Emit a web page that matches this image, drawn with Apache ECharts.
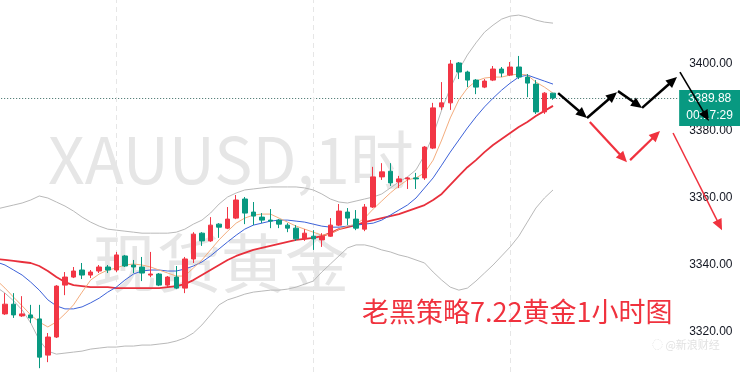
<!DOCTYPE html>
<html><head><meta charset="utf-8">
<script src="https://cdn.jsdelivr.net/npm/echarts@6/dist/echarts.min.js"></script>
<style>html,body{margin:0;padding:0;background:#fff;overflow:hidden}#c{width:740px;height:373px}</style>
</head><body><div id="c"></div>
<script>
// ---- data ----
// candles, bar 1..65 : [open, close, low, high]
const ohlc = [
 [3325.4,3328.3,3325.1,3331.6],[3328.3,3325.1,3324.2,3331.6],[3324.8,3325.4,3324.5,3330.7],[3325.1,3324.2,3322.7,3328.1],
 [3323.9,3312.5,3309.2,3328.1],[3313.1,3318.5,3311.0,3319.7],[3318.5,3333.7,3318.2,3334.0],[3334.0,3336.4,3331.0,3337.9],
 [3336.4,3338.2,3336.1,3339.4],[3338.5,3337.0,3335.8,3340.6],[3337.0,3337.9,3336.1,3338.5],[3338.2,3339.4,3337.6,3340.0],
 [3339.4,3338.5,3337.6,3340.0],[3338.5,3343.0,3337.9,3343.9],[3342.7,3339.7,3339.4,3343.0],[3340.0,3339.4,3337.6,3341.5],
 [3339.4,3337.6,3335.2,3342.4],[3337.0,3337.3,3336.4,3343.9],[3337.3,3334.0,3333.7,3337.6],[3334.0,3336.4,3333.4,3336.7],
 [3336.4,3333.1,3332.8,3339.7],[3333.1,3341.8,3331.6,3342.4],[3341.8,3349.2,3340.6,3349.8],[3349.5,3347.2,3345.7,3349.8],
 [3347.2,3351.9,3346.9,3354.3],[3352.2,3351.3,3348.1,3352.5],[3351.0,3353.7,3350.7,3357.3],[3354.0,3359.4,3353.7,3360.9],
 [3359.7,3355.5,3352.2,3360.3],[3355.8,3354.6,3351.9,3358.8],[3354.3,3353.4,3352.5,3355.5],[3353.4,3353.1,3351.0,3356.7],
 [3353.4,3352.2,3351.0,3353.7],[3351.9,3351.0,3349.8,3352.5],[3351.0,3347.8,3347.2,3351.9],[3347.8,3349.5,3347.2,3350.7],
 [3348.6,3347.8,3344.5,3350.4],[3347.5,3348.6,3345.4,3349.5],[3348.6,3351.9,3348.4,3354.0],[3351.9,3356.1,3351.6,3358.2],
 [3355.8,3354.0,3351.9,3357.0],[3353.7,3351.0,3350.4,3356.4],[3350.7,3357.3,3350.1,3358.2],[3357.3,3366.3,3357.0,3369.3],
 [3366.3,3367.8,3365.4,3370.4],[3368.0,3364.5,3363.6,3370.4],[3364.8,3365.7,3363.0,3366.6],[3365.7,3366.0,3362.7,3366.3],
 [3366.0,3365.7,3362.7,3367.5],[3366.0,3375.2,3365.4,3375.5],[3374.9,3386.9,3374.6,3388.4],[3387.2,3388.4,3386.3,3394.6],
 [3388.4,3400.0,3386.3,3401.2],[3400.3,3397.6,3395.5,3400.6],[3397.6,3395.2,3393.1,3398.0],[3395.2,3393.1,3391.0,3395.5],
 [3393.1,3394.9,3392.8,3395.5],[3395.2,3398.5,3394.9,3399.4],[3398.5,3397.3,3396.1,3399.1],[3396.7,3399.1,3396.4,3400.6],
 [3399.1,3396.1,3395.5,3402.4],[3396.1,3394.3,3390.1,3397.0],[3394.0,3385.7,3385.1,3395.2],[3385.7,3391.3,3385.1,3391.6],
 [3391.3,3389.88,3389.3,3391.3]
];
// indicator lines, bar 0..65 (bar 0 is just off the left edge)
const upperBand = [3356.7,3357.3,3357.9,3358.5,3359.4,3360.6,3360.0,3358.8,3357.6,3356.1,3354.3,3352.8,3351.6,3350.7,3350.4,3350.1,3349.8,3349.5,3349.5,3349.5,3349.5,3349.8,3350.7,3352.2,3353.4,3355.5,3358.2,3360.3,3361.5,3362.4,3362.7,3363.0,3363.3,3363.3,3363.3,3363.3,3363.0,3362.4,3361.2,3359.7,3358.8,3358.5,3359.1,3359.7,3360.3,3361.2,3363.0,3364.8,3366.3,3368.4,3372.8,3378.8,3386.3,3392.8,3398.2,3402.7,3406.3,3409.5,3411.6,3413.4,3414.3,3414.6,3414.0,3413.1,3412.5,3412.2];
const lowerBand = [3333.4,3331.6,3329.3,3326.6,3322.7,3317.6,3314.3,3313.4,3313.7,3314.0,3314.3,3314.9,3315.2,3315.5,3315.5,3315.8,3315.8,3316.1,3316.1,3316.4,3316.7,3317.3,3318.2,3319.7,3322.1,3325.1,3328.1,3329.6,3330.4,3331.3,3331.9,3332.2,3332.5,3332.5,3332.8,3333.4,3334.3,3335.2,3337.9,3340.3,3342.7,3345.1,3346.0,3346.0,3345.4,3344.5,3343.9,3343.0,3342.4,3341.5,3340.6,3337.9,3335.5,3333.4,3332.5,3333.1,3335.2,3337.6,3340.0,3342.7,3345.4,3348.6,3352.8,3357.0,3360.0,3362.4];
const maFast = [3335.5,3333.1,3330.4,3327.8,3325.1,3323.0,3321.5,3323.0,3325.4,3328.1,3331.9,3335.5,3337.3,3338.5,3339.1,3340.0,3340.3,3340.0,3339.4,3338.5,3337.6,3336.7,3336.7,3339.1,3341.5,3344.5,3347.5,3350.1,3352.5,3354.0,3354.9,3355.2,3355.2,3354.0,3352.8,3351.6,3350.7,3349.8,3348.9,3349.2,3350.7,3351.6,3352.2,3354.0,3356.7,3359.1,3361.5,3363.6,3365.4,3366.0,3367.5,3371.3,3377.3,3383.9,3389.3,3392.8,3394.9,3395.8,3396.1,3396.1,3396.7,3397.0,3396.7,3394.6,3393.1,3391.3];
const maMid = [3340.9,3340.0,3338.5,3337.0,3334.9,3332.5,3329.6,3327.8,3326.9,3326.9,3327.5,3328.7,3330.1,3331.9,3333.4,3335.5,3337.3,3338.2,3338.5,3338.5,3338.2,3338.2,3338.8,3339.7,3340.9,3342.7,3344.8,3346.9,3348.9,3350.7,3351.9,3352.5,3353.1,3353.4,3353.4,3353.1,3352.8,3352.2,3351.6,3351.3,3351.3,3351.6,3351.9,3352.2,3352.5,3353.4,3354.9,3356.4,3357.9,3360.0,3363.0,3366.0,3369.8,3373.7,3377.3,3380.9,3384.2,3387.2,3389.8,3392.2,3394.3,3396.1,3396.7,3395.8,3394.9,3394.0];
const maSlow = [3341.8,3341.5,3341.2,3340.9,3340.6,3339.7,3338.2,3336.4,3334.9,3334.0,3333.7,3333.4,3333.4,3333.4,3333.1,3333.1,3333.1,3333.1,3333.1,3333.1,3333.4,3333.7,3334.3,3335.5,3337.0,3338.5,3340.0,3341.5,3342.7,3343.6,3344.5,3345.1,3345.7,3346.3,3346.9,3347.5,3347.8,3348.1,3348.6,3349.5,3350.7,3351.3,3351.9,3352.8,3353.4,3354.0,3354.6,3355.2,3356.1,3357.0,3357.9,3359.4,3361.2,3363.9,3366.6,3369.2,3371.3,3373.7,3375.8,3377.6,3379.4,3381.2,3382.7,3384.5,3386.0,3387.5];
const lastPrice = 3389.88;
const countdown = '00:17:29';
const daySeparators = [14, 37, 60];      // bar index of each new session
const totalSlots = 80;                    // bars incl. empty future space
// hand-drawn arrows : [fromBar, fromPrice, toBar, toPrice]
const blackArrows = [[65.6,3391.3,68.97,3383.9],[68.97,3383.9,72.47,3391.6],[72.59,3391.9,75.4,3386.9],[75.4,3386.9,79.48,3396.1],[79.83,3397.6,83.2,3383.0]];
const redArrows = [[69.3,3382.7,73.64,3370.7],[74.0,3371.3,77.5,3380.0],[79.02,3379.4,84.74,3350.4]];
const yMin = 3300, yMax = 3420, yStep = 20;
const titleText = '老黑策略7.22黄金1小时图';
const watermark1 = 'XAUUSD,1时';
const watermark2 = '现货黄金';
const sourceMark = '@新浪财经';

// ---- styles ----
const blackArrowWidths = [2.5,2.5,2.5,2.5,1.6];
const redArrowWidths = [2.2,2.2,1.5];
const UP = '#f23645', DOWN = '#089981';

const categories = Array.from({length: totalSlots}, (_, i) => String(i));
const chart = echarts.init(document.getElementById('c'));

function arrowSeries(list, color, widths){
  return {
    type:'custom', xAxisIndex:1, yAxisIndex:0, z:10, silent:true, clip:false,
    data:list, encode:{x:[0,2], y:[1,3]},
    renderItem(params, api){
      const a = api.coord([api.value(0), api.value(1)]);
      const b = api.coord([api.value(2), api.value(3)]);
      const dx=b[0]-a[0], dy=b[1]-a[1], L=Math.hypot(dx,dy), ux=dx/L, uy=dy/L;
      const w = widths[params.dataIndex];
      const hl = 11, hw = 5;
      const bx=b[0]-ux*hl, by=b[1]-uy*hl;
      return {type:'group', children:[
        {type:'line', shape:{x1:a[0],y1:a[1],x2:bx+ux*2,y2:by+uy*2}, style:{stroke:color,lineWidth:w}},
        {type:'polygon', shape:{points:[[b[0],b[1]],[bx-uy*hw,by+ux*hw],[bx+uy*hw,by-ux*hw]]}, style:{fill:color}}
      ]};
    }
  };
}
function lineSeries(data, color, width){
  return {type:'line', data, symbol:'none', silent:true, z:3, lineStyle:{color, width}};
}

chart.setOption({
  animation:false,
  backgroundColor:'#ffffff',
  grid:{left:-7.84, right:62.84, top:-3, bottom:-26, containLabel:false, outerBoundsMode:'none'},
  xAxis:[
    {type:'category', data:categories, boundaryGap:true, show:false},
    {type:'value', min:-0.5, max:totalSlots-0.5, show:false}
  ],
  yAxis:{type:'value', position:'right', min:yMin, max:yMax, interval:yStep, offset:2,
    axisLine:{show:true, lineStyle:{color:'#d9d9d9', width:1}}, axisTick:{show:false}, splitLine:{show:false},
    axisLabel:{margin:10, color:'#131722', fontSize:12, fontFamily:'Liberation Sans', showMaxLabel:true, showMinLabel:true,
      hideOverlap:false, padding:[4,0,0,0], formatter:v=>v.toFixed(2)}},
  graphic:[
    {id:'wm1', type:'text', x:48, y:160, z:0, silent:true, style:{text:watermark1, font:'64px "Noto Sans CJK SC"', fill:'#e6e6e6', verticalAlign:'middle'}},
    {id:'wm2', type:'text', x:93, y:263, z:0, silent:true, style:{text:watermark2, font:'64px "Noto Sans CJK SC"', fill:'#e6e6e6', verticalAlign:'middle'}},
    {id:'title', type:'text', x:362, y:312, z:20, silent:true, style:{text:titleText, font:'27px "Noto Sans CJK SC"', fill:'#f0323e', verticalAlign:'middle'}},
    {id:'src', type:'text', x:652, y:345, z:20, silent:true, style:{text:'◌ ' + sourceMark, font:'11px "Noto Sans CJK SC"', fill:'#e2e2e2', verticalAlign:'middle'}}
  ],
  series:[
    lineSeries(upperBand, '#b9b9b9', 1),
    lineSeries(lowerBand, '#b9b9b9', 1),
    lineSeries(maSlow, '#e8303c', 1.8),
    lineSeries(maMid, '#3d62d9', 1),
    lineSeries(maFast, '#f4ad7e', 1),
    {type:'candlestick', z:5, barWidth:5, silent:true,
      data: ohlc.map((d,i)=>[i+1].concat(d)), encode:{x:0, y:[1,2,3,4]},
      itemStyle:{color:UP, color0:DOWN, borderColor:UP, borderColor0:DOWN, borderWidth:1},
      markLine:{silent:true, symbol:'none', animation:false, label:{show:false}, z:1,
        data:[{yAxis:lastPrice, lineStyle:{type:[1,2], color:'#3a6b63', width:1}}]
          .concat(daySeparators.map(v=>({xAxis:v, lineStyle:{type:[5,4], color:'#e6e6e6', width:1}})))}
    },
    arrowSeries(blackArrows, '#000000', blackArrowWidths),
    arrowSeries(redArrows, '#f0323e', redArrowWidths)
  ]
});

// price tag on the right axis
const py = chart.convertToPixel({yAxisIndex:0}, lastPrice);
const ax = chart.convertToPixel({xAxisIndex:1}, totalSlots-0.5) + 2;
chart.setOption({graphic:[
  {id:'tagBox', type:'rect', x:ax, y:py-8, z:8, silent:true, shape:{width:740-ax, height:36}, style:{fill:DOWN}},
  {id:'tagPrice', type:'text', x:ax+(740-ax)/2, y:py+1, z:9, silent:true, style:{text:lastPrice.toFixed(2), font:'12px "Liberation Sans"', fill:'#ffffff', align:'center', verticalAlign:'middle'}},
  {id:'tagTime', type:'text', x:ax+(740-ax)/2, y:py+18, z:9, silent:true, style:{text:countdown, font:'12px "Liberation Sans"', fill:'#ffffff', align:'center', verticalAlign:'middle'}}
]});
</script></body></html>
